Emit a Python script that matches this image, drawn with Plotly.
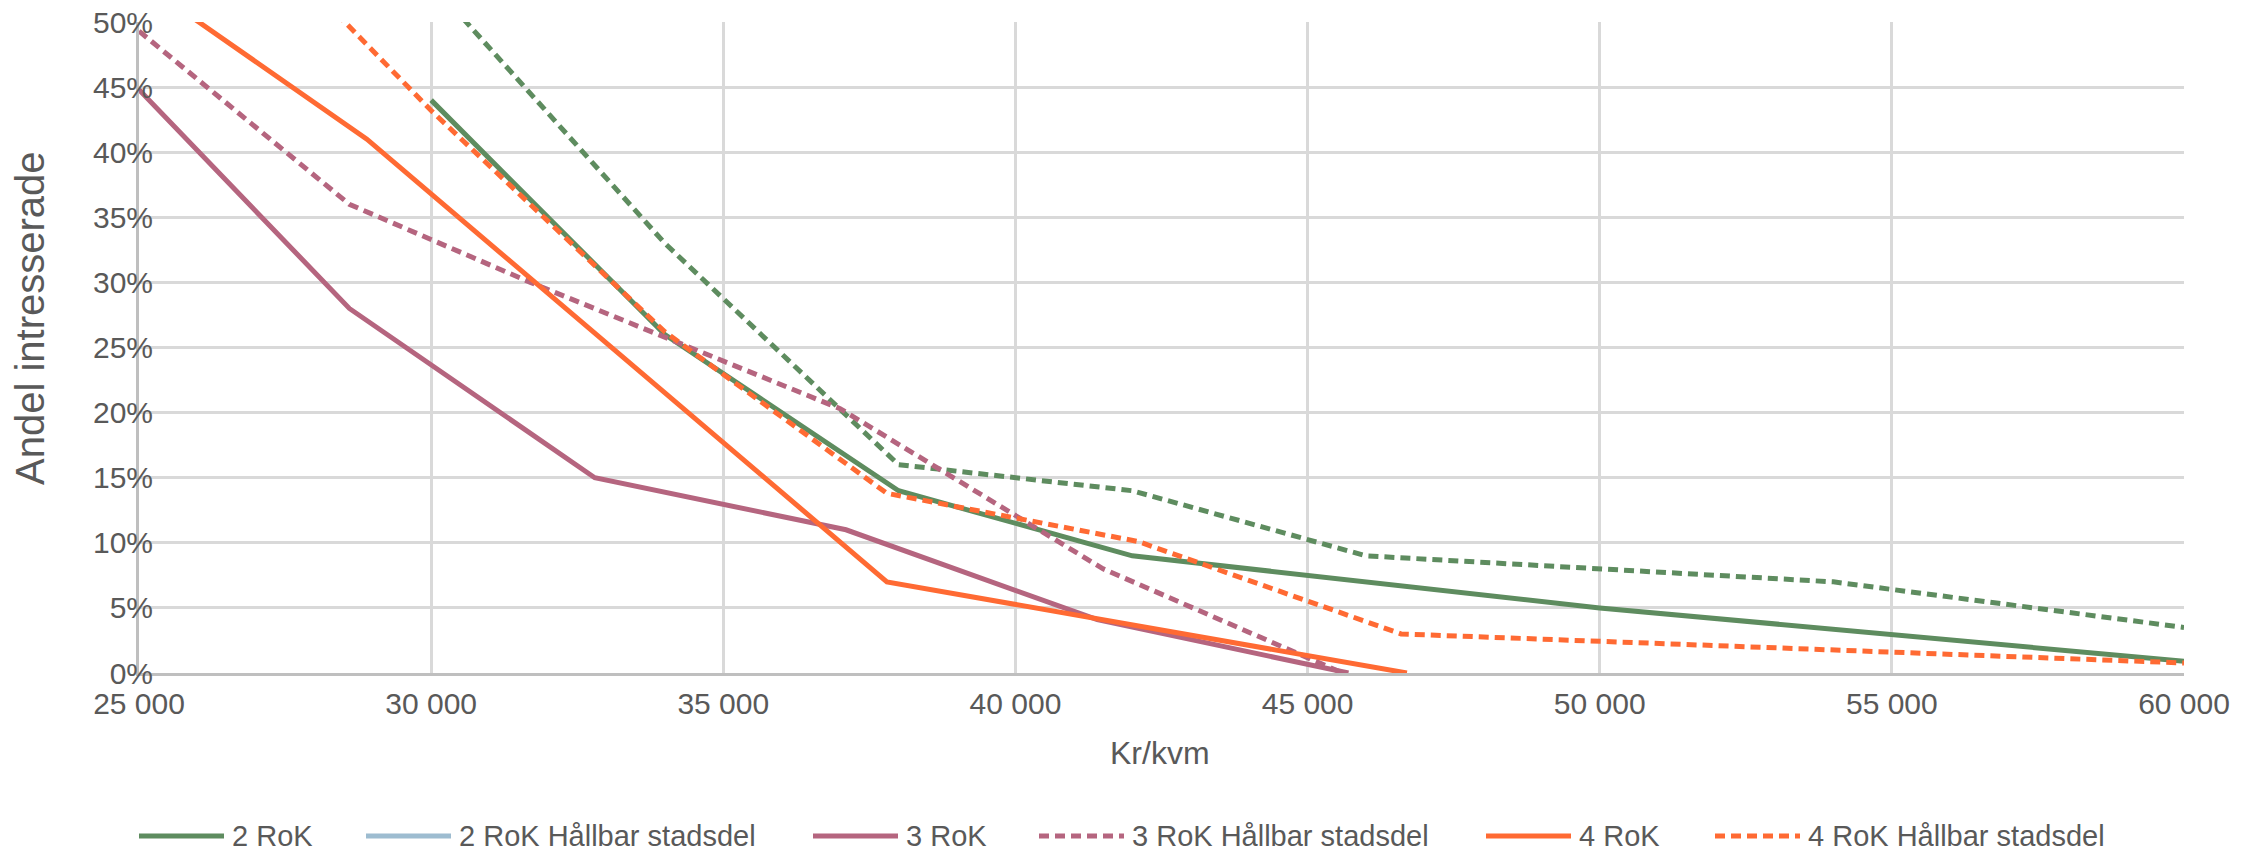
import plotly.graph_objects as go

# ---------------- data ----------------
x_2rok = [30000, 34000, 38000, 42000, 50000, 60000]
y_2rok = [0.44, 0.26, 0.14, 0.09, 0.05, 0.009]

x_2rok_hs = [30000, 34000, 38000, 42000, 46000, 54000, 60000]
y_2rok_hs = [0.53, 0.33, 0.16, 0.14, 0.09, 0.07, 0.035]

x_3rok = [25000, 28600, 32800, 37100, 41400, 45700]
y_3rok = [0.448, 0.28, 0.15, 0.11, 0.041, 0.0]

x_3rok_hs = [25000, 28600, 31700, 37000, 41500, 45600]
y_3rok_hs = [0.493, 0.36, 0.30, 0.203, 0.08, 0.0]

x_4rok = [25000, 28900, 37800, 46700]
y_4rok = [0.532, 0.41, 0.07, 0.0]

x_4rok_hs = [28000, 30000, 34000, 37800, 42100, 46600, 60000]
y_4rok_hs = [0.524, 0.432, 0.262, 0.138, 0.101, 0.03, 0.0077]

series_names = ["2 RoK", "2 RoK Hållbar stadsdel", "3 RoK",
                "3 RoK Hållbar stadsdel", "4 RoK", "4 RoK Hållbar stadsdel"]

x_tick_vals = [25000, 30000, 35000, 40000, 45000, 50000, 55000, 60000]
y_tick_vals = [0, 0.05, 0.10, 0.15, 0.20, 0.25, 0.30, 0.35, 0.40, 0.45, 0.50]

x_title = "Kr/kvm"
y_title = "Andel intresserade"

# ---------------- styles ----------------
GREEN = "#5E8C5F"
BLUE = "#9DBCD0"
MAUVE = "#B5657F"
ORANGE = "#FF6A33"
TXT = "#595959"
FONT = "Liberation Sans, Arial, sans-serif"
FS = 29
FS_TICK = 30
LW = 5
DASH = "10px,6px"

W, H = 2254, 853
ML, MR, MT, MB = 139, 70, 22, 180
PW, PH = W - ML - MR, H - MT - MB


def px(xp):
    return (xp - ML) / PW


def py(yp):
    return (H - MB - yp) / PH


fig = go.Figure()

traces = [
    (x_2rok, y_2rok, series_names[0], GREEN, "solid"),
    (x_2rok_hs, y_2rok_hs, series_names[1], GREEN, DASH),
    (x_3rok, y_3rok, series_names[2], MAUVE, "solid"),
    (x_3rok_hs, y_3rok_hs, series_names[3], MAUVE, DASH),
    (x_4rok, y_4rok, series_names[4], ORANGE, "solid"),
    (x_4rok_hs, y_4rok_hs, series_names[5], ORANGE, DASH),
]
for xs, ys, nm, col, dash in traces:
    fig.add_trace(go.Scatter(x=xs, y=ys, name=nm, mode="lines",
                             line=dict(color=col, width=LW, dash=dash),
                             showlegend=False, hoverinfo="skip"))

# ---------------- custom legend ----------------
legend_colors = [GREEN, BLUE, MAUVE, MAUVE, ORANGE, ORANGE]
legend_dash = ["solid", "solid", "solid", "dash", "solid", "dash"]
legend_x0 = [139, 366, 813, 1039, 1486, 1715]
LEG_Y = 836
LEN = 85
shapes = []
annotations = []
for nm, col, d, x0 in zip(series_names, legend_colors, legend_dash, legend_x0):
    shapes.append(dict(type="line", xref="paper", yref="paper",
                       x0=px(x0), x1=px(x0 + LEN), y0=py(LEG_Y), y1=py(LEG_Y),
                       line=dict(color=col, width=LW,
                                 dash=DASH if d == "dash" else "solid")))
    annotations.append(dict(text=nm, xref="paper", yref="paper",
                            x=px(x0 + LEN + 6), y=py(LEG_Y), xanchor="left",
                            yanchor="middle", showarrow=False,
                            font=dict(family=FONT, size=FS, color=TXT)))

annotations.append(dict(text=x_title, xref="paper", yref="paper",
                        x=px(1160), y=py(753), xanchor="center", yanchor="middle",
                        showarrow=False, font=dict(family=FONT, size=32, color=TXT)))
annotations.append(dict(text=y_title, xref="paper", yref="paper",
                        x=px(30), y=py(318), xanchor="center", yanchor="middle",
                        textangle=-90, showarrow=False,
                        font=dict(family=FONT, size=40, color=TXT)))

fig.update_layout(
    width=W, height=H,
    margin=dict(l=ML, r=MR, t=MT, b=MB, autoexpand=False),
    paper_bgcolor="white", plot_bgcolor="white",
    separators=", ",
    font=dict(family=FONT, size=FS, color=TXT),
    shapes=shapes, annotations=annotations,
    showlegend=False,
)
fig.update_xaxes(range=[25000, 60000], tickvals=x_tick_vals, tickformat=",d",
                 showgrid=True, gridcolor="#D9D9D9", gridwidth=2.5,
                 showline=True, linecolor="#BFBFBF", linewidth=3,
                 zeroline=False, ticks="", ticklabelstandoff=2,
                 tickfont=dict(family=FONT, size=FS_TICK, color=TXT), automargin=False)
fig.update_yaxes(range=[0, 0.5], tickvals=y_tick_vals, tickformat=".0%",
                 showgrid=True, gridcolor="#D9D9D9", gridwidth=2.5,
                 showline=True, linecolor="#BFBFBF", linewidth=3,
                 zeroline=False, ticks="", ticklabelstandoff=-23,
                 tickfont=dict(family=FONT, size=FS_TICK, color=TXT), automargin=False)

fig.write_html("out.html")
